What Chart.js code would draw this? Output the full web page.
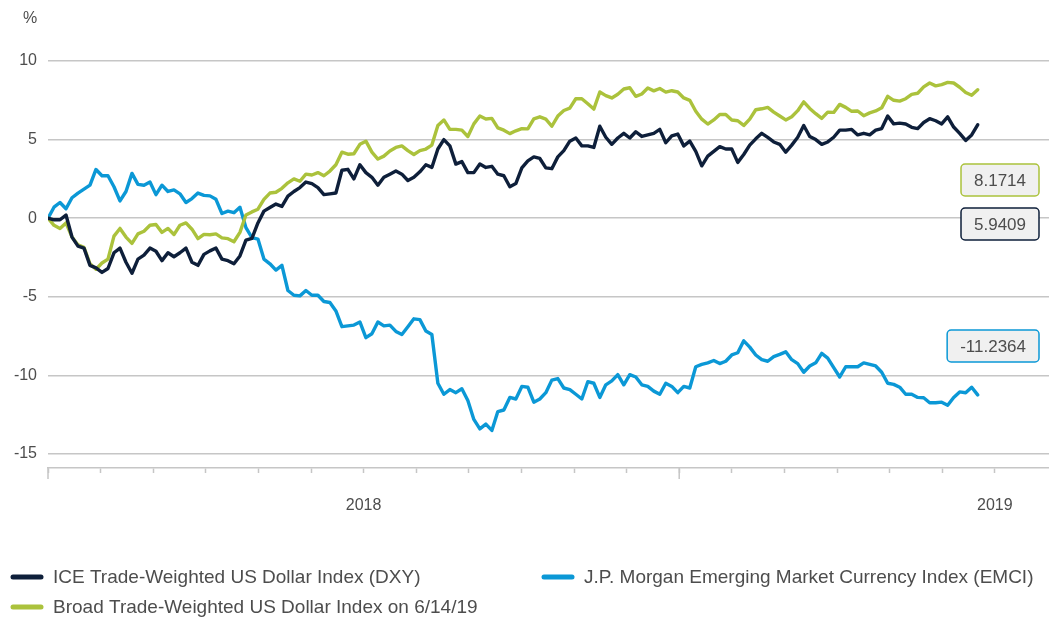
<!DOCTYPE html>
<html>
<head>
<meta charset="utf-8">
<script src="https://cdn.jsdelivr.net/npm/chart.js@4.4.1/dist/chart.umd.min.js"></script>
<style>
  html, body { margin: 0; padding: 0; background: #fff; }
  canvas { display: block; }
</style>
</head>
<body>
<canvas id="chart" width="1049" height="619"></canvas>
<script>
const seriesNames = [
  'ICE Trade-Weighted US Dollar Index (DXY)',
  'Broad Trade-Weighted US Dollar Index on 6/14/19',
  'J.P. Morgan Emerging Market Currency Index (EMCI)',
];
const seriesColors = ['#0e1f3a', '#abc23c', '#0b98d6'];
const endLabels = ['5.9409', '8.1714', '-11.2364'];

const dxy = [
  0.0, -0.1, -0.1, 0.2, -1.2, -1.78, -1.9, -3.0, -3.16, -3.45,
  -3.2, -2.2, -1.9, -2.8, -3.5, -2.6, -2.35, -1.9, -2.1, -2.7,
  -2.2, -2.45, -2.2, -1.9, -2.8, -3.0, -2.3, -2.08, -1.9, -2.6,
  -2.7, -2.9, -2.4, -1.4, -1.28, -0.3, 0.45, 0.68, 0.9, 0.75,
  1.4, 1.7, 1.95, 2.3, 2.2, 1.95, 1.5, 1.55, 1.6, 3.05,
  3.11, 2.5, 3.4, 2.9, 2.6, 2.1, 2.6, 2.8, 3.0, 2.8,
  2.4, 2.6, 2.95, 3.4, 3.23, 4.4, 5.0, 4.6, 3.44, 3.6,
  2.9, 2.9, 3.45, 3.23, 3.3, 2.8, 2.7, 2.0, 2.2, 3.2,
  3.65, 3.9, 3.8, 3.2, 3.15, 3.9, 4.3, 4.9, 5.1, 4.6,
  4.6, 4.5, 5.85, 5.15, 4.7, 5.1, 5.4, 5.1, 5.5, 5.2,
  5.3, 5.4, 5.65, 4.8, 5.24, 5.35, 4.6, 4.9, 4.25, 3.33,
  3.95, 4.25, 4.55, 4.4, 4.4, 3.55, 4.05, 4.65, 5.05, 5.4,
  5.14, 4.85, 4.7, 4.2, 4.65, 5.15, 5.9, 5.2, 5.0, 4.7,
  4.85, 5.15, 5.6, 5.6, 5.65, 5.3, 5.4, 5.3, 5.6, 5.7,
  6.5, 6.0, 6.05, 5.99, 5.78, 5.7, 6.09, 6.33, 6.2, 6.0,
  6.45, 5.8, 5.4, 4.95, 5.3, 5.94,
];

const broad = [
  0.0, -0.45, -0.65, -0.3, -1.2, -1.7, -1.85, -2.9, -3.25, -2.85,
  -2.6, -1.14, -0.65, -1.2, -1.6, -1.0, -0.83, -0.45, -0.4, -0.9,
  -0.65, -1.04, -0.45, -0.3, -0.7, -1.3, -1.03, -1.05, -1.0, -1.25,
  -1.3, -1.5, -0.9, 0.2, 0.4, 0.57, 1.2, 1.6, 1.65, 1.9,
  2.25, 2.5, 2.35, 2.8, 2.75, 2.9, 2.7, 3.0, 3.4, 4.2,
  4.07, 4.1, 4.7, 4.9, 4.2, 3.76, 3.95, 4.28, 4.5, 4.6,
  4.3, 4.05, 4.3, 4.4, 4.65, 5.9, 6.25, 5.65, 5.65, 5.6,
  5.2, 6.0, 6.5, 6.31, 6.35, 5.75, 5.6, 5.38, 5.56, 5.7,
  5.68, 6.32, 6.45, 6.3, 5.85, 6.5, 6.85, 7.0, 7.6, 7.6,
  7.28, 6.94, 8.03, 7.8, 7.65, 7.88, 8.22, 8.3, 7.75, 7.9,
  8.28, 8.1, 8.25, 8.02, 8.11, 8.03, 7.65, 7.5, 6.8, 6.3,
  5.99, 6.25, 6.6, 6.6, 6.25, 6.2, 5.9, 6.3, 6.9, 6.96,
  7.05, 6.75, 6.5, 6.25, 6.45, 6.84, 7.4, 6.98, 6.65, 6.35,
  6.75, 6.73, 7.24, 7.05, 6.8, 6.82, 6.52, 6.7, 6.82, 7.02,
  7.75, 7.5, 7.45, 7.6, 7.88, 7.95, 8.35, 8.6, 8.42, 8.5,
  8.64, 8.6, 8.33, 8.0, 7.82, 8.17,
];

const emci = [
  0.0, 0.7, 1.0, 0.6, 1.3, 1.6, 1.85, 2.1, 3.1, 2.7,
  2.7, 2.0, 1.1, 1.7, 2.85, 2.15, 2.1, 2.3, 1.5, 2.1,
  1.7, 1.8, 1.55, 1.0, 1.25, 1.6, 1.45, 1.42, 1.2, 0.3,
  0.45, 0.35, 0.7, -0.6, -1.23, -1.33, -2.6, -2.9, -3.3, -3.0,
  -4.6, -4.9, -4.94, -4.6, -4.9, -4.9, -5.3, -5.36, -5.9, -6.9,
  -6.85, -6.8, -6.6, -7.6, -7.35, -6.6, -6.85, -6.8, -7.2, -7.4,
  -6.9, -6.4, -6.45, -7.18, -7.4, -10.5, -11.2, -10.9, -11.1, -10.85,
  -11.6, -12.8, -13.4, -13.1, -13.5, -12.3, -12.2, -11.4, -11.5, -10.7,
  -10.75, -11.7, -11.5, -11.1, -10.3, -10.2, -10.8, -10.9, -11.2, -11.5,
  -10.4, -10.5, -11.4, -10.6, -10.35, -9.95, -10.6, -9.95, -10.1, -10.6,
  -10.7, -11.0, -11.2, -10.5, -10.7, -11.1, -10.7, -10.8, -9.45, -9.3,
  -9.2, -9.05, -9.25, -9.1, -8.7, -8.56, -7.8, -8.2, -8.7, -9.0,
  -9.1, -8.8, -8.66, -8.5, -9.0, -9.25, -9.8, -9.4, -9.2, -8.6,
  -8.9, -9.5, -10.1, -9.45, -9.45, -9.45, -9.2, -9.3, -9.4, -9.8,
  -10.5, -10.57, -10.75, -11.2, -11.2, -11.4, -11.42, -11.74, -11.74, -11.7,
  -11.9, -11.4, -11.05, -11.1, -10.75, -11.24,
];

const yTicks = [-15, -10, -5, 0, 5, 10];
const yearLabels = ['2018', '2019'];
const yearTicks = [6, 18];
const majorTicks = [0, 12];
const tickCount = 19;
const samplesPerTick = 8.77;

const font = '"Liberation Sans", Arial, sans-serif';
const textColor = '#4d4d4d';
const gridColor = '#c6c6c6';

Chart.defaults.font.family = font;
Chart.defaults.color = textColor;

const extras = {
  id: 'extras',
  afterDraw(chart) {
    const { ctx, chartArea, scales } = chart;
    ctx.save();

    // longer ticks where the years start
    ctx.strokeStyle = gridColor;
    ctx.lineWidth = 1.5;
    majorTicks.forEach((v) => {
      const x = scales.x.getPixelForValue(v);
      ctx.beginPath();
      ctx.moveTo(x, chartArea.bottom);
      ctx.lineTo(x, chartArea.bottom + 11);
      ctx.stroke();
    });

    ctx.fillStyle = textColor;
    ctx.font = '16px ' + font;
    ctx.textAlign = 'center';
    ctx.textBaseline = 'middle';
    ctx.fillText('%', 30, chartArea.top - 42);

    // boxes with the latest values
    const boxTops = [147, 103, 269];
    ctx.font = '17px ' + font;
    chart.data.datasets.forEach((ds, i) => {
      const w = ctx.measureText(endLabels[i]).width + 26;
      const right = chartArea.right - 10;
      const top = chartArea.top + boxTops[i];
      ctx.beginPath();
      ctx.roundRect(right - w, top, w, 32, 4);
      ctx.fillStyle = '#f0f0f0';
      ctx.fill();
      ctx.strokeStyle = ds.borderColor;
      ctx.lineWidth = 1.5;
      ctx.stroke();
      ctx.fillStyle = textColor;
      ctx.fillText(endLabels[i], right - w / 2, top + 17);
    });

    // legend in two columns
    const slots = [[11, 42], [11, 12], [542, 42]];
    ctx.font = '19px ' + font;
    ctx.textAlign = 'left';
    ctx.lineCap = 'round';
    chart.data.datasets.forEach((ds, i) => {
      const x = slots[i][0];
      const y = chart.height - slots[i][1];
      ctx.strokeStyle = ds.borderColor;
      ctx.lineWidth = 5;
      ctx.beginPath();
      ctx.moveTo(x + 2, y);
      ctx.lineTo(x + 30, y);
      ctx.stroke();
      ctx.fillStyle = textColor;
      ctx.fillText(ds.label, x + 42, y + 1);
    });

    ctx.restore();
  },
};

const series = [dxy, broad, emci];

new Chart(document.getElementById('chart'), {
  type: 'line',
  data: {
    datasets: series.map((values, i) => ({
      label: seriesNames[i],
      data: values.map((v, j) => ({ x: j / samplesPerTick, y: v })),
      borderColor: seriesColors[i],
      borderWidth: 3.4,
      borderJoinStyle: 'round',
      borderCapStyle: 'round',
      pointRadius: 0,
      tension: 0,
    })),
  },
  options: {
    responsive: false,
    devicePixelRatio: 1,
    animation: false,
    events: [],
    layout: { padding: { top: 61, right: 0, bottom: 101, left: 0 } },
    plugins: {
      legend: { display: false },
      tooltip: { enabled: false },
    },
    scales: {
      x: {
        type: 'linear',
        min: 0,
        max: 19.03,
        afterBuildTicks: (scale) => {
          scale.ticks = Array.from({ length: tickCount }, (_, k) => ({ value: k }));
        },
        afterFit: (scale) => { scale.height = 50; },
        grid: {
          drawOnChartArea: false,
          drawTicks: true,
          tickLength: 5,
          tickColor: gridColor,
          tickWidth: 1.5,
        },
        border: { display: true, color: gridColor, width: 1.5 },
        ticks: {
          autoSkip: false,
          maxRotation: 0,
          padding: 23,
          font: { size: 16 },
          callback: (v) => {
            const k = yearTicks.indexOf(v);
            return k >= 0 ? yearLabels[k] : '';
          },
        },
      },
      y: {
        min: -15.89,
        max: 10,
        afterBuildTicks: (scale) => {
          scale.ticks = yTicks.map((v) => ({ value: v }));
        },
        afterFit: (scale) => { scale.width = 48; },
        grid: { color: gridColor, lineWidth: 1.5, drawTicks: false },
        border: { display: false },
        ticks: { padding: 11, font: { size: 16 } },
      },
    },
  },
  plugins: [extras],
});
</script>
</body>
</html>
